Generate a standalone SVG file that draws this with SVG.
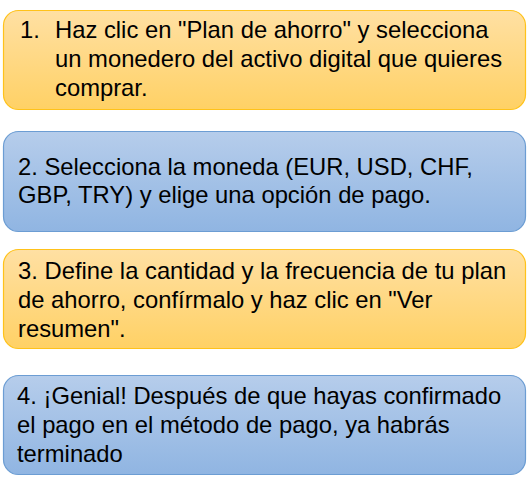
<svg xmlns="http://www.w3.org/2000/svg" width="529" height="482" viewBox="0 0 529 482">
<defs>
<linearGradient id="gO" x1="0" y1="0" x2="0" y2="1">
<stop offset="0" stop-color="#FFE0A3"/>
<stop offset="1" stop-color="#FFD165"/>
</linearGradient>
<linearGradient id="gB" x1="0" y1="0" x2="0" y2="1">
<stop offset="0" stop-color="#B6CDEB"/>
<stop offset="1" stop-color="#90B5E2"/>
</linearGradient>
</defs>
<style>
.o{fill:url(#gO);stroke:#FFC21A;stroke-width:1.2}
.b{fill:url(#gB);stroke:#6C9DD3;stroke-width:1.2}
text{font-family:"Liberation Sans",Arial,sans-serif;font-size:23.8px;fill:#000}
</style>
<rect width="529" height="482" fill="#fff"/>
<g id="node1">
<rect class="o" x="3.5" y="10.5" width="522" height="99" rx="15"/>
<text x="20" y="38">1.</text>
<text x="55" y="38">Haz clic en "Plan de ahorro" y selecciona</text>
<text x="55" y="67">un monedero del activo digital que quieres</text>
<text x="55" y="96">comprar.</text>
</g>
<g id="node2">
<rect class="b" x="3.5" y="131.5" width="522" height="100" rx="15"/>
<text x="18" y="175">2. Selecciona la moneda (EUR, USD, CHF,</text>
<text x="18" y="203">GBP, TRY) y elige una opción de pago.</text>
</g>
<g id="node3">
<rect class="o" x="3.5" y="249.5" width="522" height="99" rx="15"/>
<text x="18" y="279">3. Define la cantidad y la frecuencia de tu plan</text>
<text x="18" y="308">de ahorro, confírmalo y haz clic en "Ver</text>
<text x="18" y="337">resumen".</text>
</g>
<g id="node4">
<rect class="b" x="3.5" y="375.5" width="522" height="99" rx="15"/>
<text x="17" y="404">4. ¡Genial! Después de que hayas confirmado</text>
<text x="17" y="433">el pago en el método de pago, ya habrás</text>
<text x="17" y="462">terminado</text>
</g>
<g id="connectors"/>
</svg>
